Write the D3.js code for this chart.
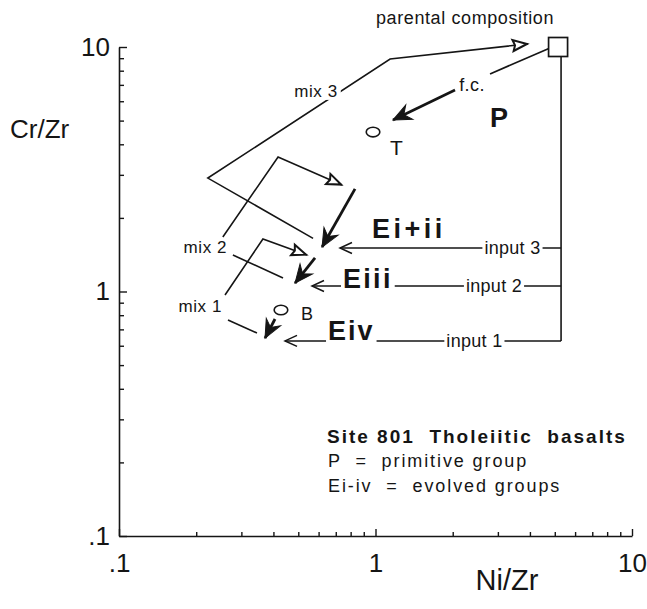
<!DOCTYPE html>
<html>
<head>
<meta charset="utf-8">
<script src="https://cdn.jsdelivr.net/npm/d3@7"></script>
<style>
  body { margin: 0; background: #fff; }
  svg { display: block; font-family: "Liberation Sans", Arial, Helvetica, sans-serif; }
</style>
</head>
<body>
<svg id="chart" width="647" height="609"></svg>
<script>
// ---- axes ----
const xDomain = [0.1, 10];
const yDomain = [0.1, 10];
const majorTicks = [0.1, 1, 10];
const majorTickLabels = [".1", "1", "10"];
const minorTicks = [0.2, 0.3, 0.4, 0.5, 0.6, 0.7, 0.8, 0.9, 2, 3, 4, 5, 6, 7, 8, 9];

// ---- compositions (Ni/Zr, Cr/Zr) ----
const parentalComposition = [5.15, 10];
const feedLineX = 5.29;
const samples = [
  { name: "T", at: [0.978, 4.49], labelAt: [1.139, 3.62], size: 21 },
  { name: "B", at: [0.428, 0.84], labelAt: [0.5125, 0.765], size: 18 }
];

// fractional crystallisation from the parental magma
const fcLead = [[4.79, 9.91], [2.796, 7.76]];
const fcArrow = [[2.042, 6.67], [1.17, 5.03]];
const fcLabel = { text: "f.c.", at: [2.378, 6.61] };

// mixing paths (open arrowheads)
const mix3Path = [[0.571, 1.65], [0.222, 2.91], [1.14, 8.93], [3.93, 10.3]];
const mix2Upper = [[0.254, 1.671], [0.417, 3.55], [0.740, 2.727]];
const mix2Lower = [[0.278, 1.41], [0.436, 1.136]];
const mix1Upper = [[0.259, 0.968], [0.364, 1.639], [0.541, 1.41]];
const mix1Lower = [[0.266, 0.765], [0.345, 0.676]];
const mixLabels = [
  { text: "mix 3", at: [0.586, 6.25], anchor: "middle", knockout: true },
  { text: "mix 2", at: [0.264, 1.437], anchor: "end", knockout: false },
  { text: "mix 1", at: [0.2522, 0.824], anchor: "end", knockout: false }
];

// evolution trends of the groups (solid arrowheads)
const trendArrows = [
  [[0.832, 2.63], [0.619, 1.52]],
  [[0.581, 1.371], [0.4857, 1.083]],
  [[0.4057, 0.772], [0.371, 0.645]]
];

// magma inputs fed from the parental composition
const inputs = [
  { name: "input 3", level: 1.506, tip: 0.727, labelX: 3.42 },
  { name: "input 2", level: 1.053, tip: 0.5655, labelX: 2.897 },
  { name: "input 1", level: 0.628, tip: 0.4438, labelX: 2.43 }
];

// group labels
const groupLabels = [
  { text: "P", at: [2.796, 4.71], knockout: false, spacing: 2 },
  { text: "Ei+ii", at: [0.969, 1.655], knockout: false, spacing: 3.5 },
  { text: "Eiii", at: [0.747, 1.033], knockout: true, spacing: 2.3 },
  { text: "Eiv", at: [0.653, 0.633], knockout: true, spacing: 2 }
];

const parentalLabel = { text: "parental composition", at: [2.234, 12.42] };

const legendTitle = "Site 801  Tholeiitic  basalts";
const legendLines = ["P  =  primitive group", "Ei-iv  =  evolved groups"];

// ---- drawing ----
const ink = "#151515";
const svg = d3.select("#chart");

const x = d3.scaleLog().domain(xDomain).range([119, 632]);
const y = d3.scaleLog().domain(yDomain).range([536, 47]);
const line = d3.line().x(d => x(d[0])).y(d => y(d[1]));

// arrowhead markers
const defs = svg.append("defs");
function marker(id, path, fill, strokeW) {
  defs.append("marker")
    .attr("id", id)
    .attr("markerUnits", "userSpaceOnUse")
    .attr("orient", "auto")
    .attr("refX", 0).attr("refY", 0)
    .attr("markerWidth", 30).attr("markerHeight", 30)
    .attr("overflow", "visible")
    .append("path")
    .attr("d", path)
    .attr("fill", fill)
    .attr("stroke", ink)
    .attr("stroke-width", strokeW)
    .attr("stroke-linejoin", "miter");
}
marker("solid", "M0,0 L-18,-8 L-12,0 L-18,8 Z", ink, 1);
marker("hollow", "M-1,0 L-15,-5.5 L-13,0 L-15,5.5 Z", "#fff", 2);
marker("open", "M-12,-5.5 L0,0 L-12,5.5", "none", 1.5);

// axes
const axisFont = 26;
const xMajor = d3.axisBottom(x).tickValues(majorTicks)
  .tickFormat(d => majorTickLabels[majorTicks.indexOf(d)])
  .tickSizeInner(-7).tickSizeOuter(0).tickPadding(18);
const xMinor = d3.axisBottom(x).tickValues(minorTicks).tickFormat("")
  .tickSizeInner(-4).tickSizeOuter(0);
const yMajor = d3.axisLeft(y).tickValues(majorTicks)
  .tickFormat(d => majorTickLabels[majorTicks.indexOf(d)])
  .tickSizeInner(-8).tickSizeOuter(0).tickPadding(9);
const yMinor = d3.axisLeft(y).tickValues(minorTicks).tickFormat("")
  .tickSizeInner(-5).tickSizeOuter(0);

function styleAxis(g) {
  g.attr("font-family", null).attr("font-size", axisFont);
  g.select(".domain").attr("stroke", ink).attr("stroke-width", 1.6);
  g.selectAll(".tick line").attr("stroke", ink).attr("stroke-width", 1.4);
  g.selectAll(".tick text").attr("fill", ink);
}
svg.append("g").attr("transform", `translate(0,${y(0.1)})`).call(xMinor).call(styleAxis)
  .call(g => g.select(".domain").remove());
svg.append("g").attr("transform", `translate(0,${y(0.1)})`).call(xMajor).call(styleAxis);
svg.append("g").attr("transform", `translate(${x(0.1)},0)`).call(yMinor).call(styleAxis)
  .call(g => g.select(".domain").remove());
svg.append("g").attr("transform", `translate(${x(0.1)},0)`).call(yMajor).call(styleAxis)
  .call(g => g.selectAll(".tick text").attr("x", -9));

// axis titles
svg.append("text").attr("x", 10).attr("y", 138).attr("font-size", 26).attr("fill", ink)
  .text("Cr/Zr");
svg.append("text").attr("x", 507).attr("y", 590).attr("text-anchor", "middle")
  .attr("font-size", 29).attr("fill", ink).text("Ni/Zr");

const marks = svg.append("g").attr("fill", "none").attr("stroke", ink)
  .attr("stroke-linejoin", "miter");

// mixing lines
[mix3Path, mix2Upper, mix1Upper].forEach(p => {
  marks.append("path").attr("d", line(p)).attr("stroke-width", 1.6)
    .attr("marker-end", "url(#hollow)");
});
[mix2Lower, mix1Lower].forEach(p => {
  marks.append("path").attr("d", line(p)).attr("stroke-width", 1.6);
});

// fractional crystallisation trend
marks.append("path").attr("d", line(fcLead)).attr("stroke-width", 1.7);
marks.append("path").attr("d", line(fcArrow)).attr("stroke-width", 2.6)
  .attr("marker-end", "url(#solid)");

// group trends
trendArrows.forEach(p => {
  marks.append("path").attr("d", line(p)).attr("stroke-width", 2.8)
    .attr("marker-end", "url(#solid)");
});

// feed line and inputs
marks.append("path")
  .attr("d", line([[feedLineX, parentalComposition[1]], [feedLineX, inputs[inputs.length - 1].level]]))
  .attr("stroke-width", 1.6);
inputs.forEach(inp => {
  marks.append("path")
    .attr("d", line([[feedLineX, inp.level], [inp.tip, inp.level]]))
    .attr("stroke-width", 1.5)
    .attr("marker-end", "url(#open)");
});

// parental composition square
const sq = 19;
svg.append("rect")
  .attr("x", x(parentalComposition[0]) - sq / 2)
  .attr("y", y(parentalComposition[1]) - sq / 2)
  .attr("width", sq).attr("height", sq)
  .attr("fill", "#fff").attr("stroke", ink).attr("stroke-width", 1.7);

// samples
samples.forEach(s => {
  svg.append("ellipse")
    .attr("cx", x(s.at[0])).attr("cy", y(s.at[1]))
    .attr("rx", 6.8).attr("ry", 4.8)
    .attr("fill", "none").attr("stroke", ink).attr("stroke-width", 1.6);
  svg.append("text").attr("x", x(s.labelAt[0])).attr("y", y(s.labelAt[1]))
    .attr("font-size", s.size).attr("fill", ink).text(s.name);
});

// text with a white backing so lines break around it
const labels = svg.append("g").attr("fill", ink);
function addLabel(txt, px, py, opts) {
  const t = labels.append("text")
    .attr("x", px).attr("y", py)
    .attr("text-anchor", opts.anchor || "start")
    .attr("font-size", opts.size)
    .attr("font-weight", opts.weight || "normal")
    .style("letter-spacing", (opts.spacing || 0) + "px")
    .style("white-space", "pre")
    .text(txt);
  if (opts.knockout) {
    const b = t.node().getBBox();
    const pad = opts.pad == null ? 3 : opts.pad;
    labels.insert("rect", () => t.node())
      .attr("x", b.x - pad).attr("y", b.y + 1)
      .attr("width", b.width + 2 * pad).attr("height", b.height - 2)
      .attr("fill", "#fff");
  }
  return t;
}

mixLabels.forEach(m => addLabel(m.text, x(m.at[0]), y(m.at[1]),
  { size: 17, anchor: m.anchor, knockout: m.knockout, spacing: 0.6 }));
addLabel(fcLabel.text, x(fcLabel.at[0]), y(fcLabel.at[1]), { size: 18, anchor: "middle", spacing: 0.4 });
inputs.forEach(inp => addLabel(inp.name, x(inp.labelX), y(inp.level) + 6,
  { size: 18, anchor: "middle", knockout: true, spacing: 0.3, pad: 2 }));
groupLabels.forEach(gl => addLabel(gl.text, x(gl.at[0]), y(gl.at[1]),
  { size: 27, weight: "bold", knockout: gl.knockout, spacing: gl.spacing, pad: 2 }));
addLabel(parentalLabel.text, x(parentalLabel.at[0]), y(parentalLabel.at[1]),
  { size: 18, anchor: "middle", spacing: 0.6 });

// legend
const legend = svg.append("g").attr("transform", "translate(327,443)").attr("fill", ink);
legend.append("text").attr("font-size", 19).attr("font-weight", "bold")
  .style("letter-spacing", "2px").style("white-space", "pre").text(legendTitle);
legend.selectAll("text.item").data(legendLines).join("text")
  .attr("class", "item")
  .attr("x", 1).attr("y", (d, i) => 24 + i * 25)
  .attr("font-size", 18).style("white-space", "pre").style("letter-spacing", "1.9px")
  .text(d => d);
</script>
</body>
</html>
